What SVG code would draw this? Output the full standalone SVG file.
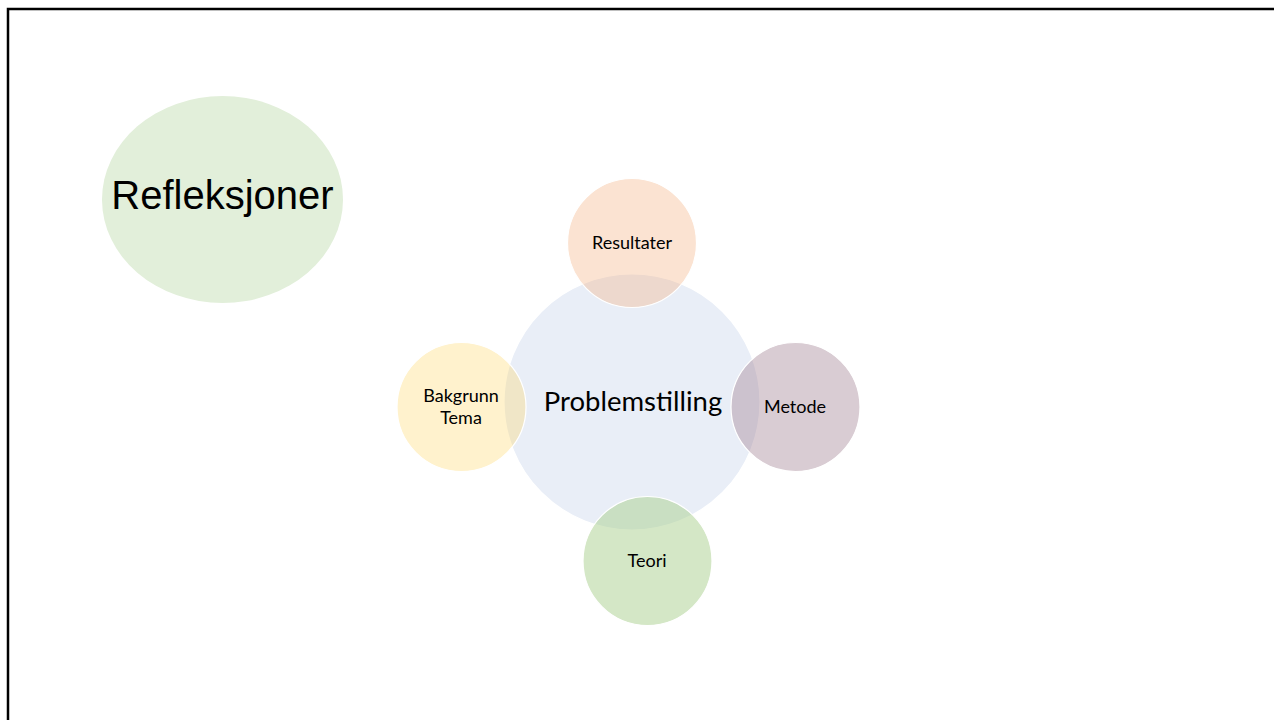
<svg xmlns="http://www.w3.org/2000/svg" width="1274" height="720" viewBox="0 0 1274 720">
<style>
.lbl{font-family:Lato,"Liberation Sans",sans-serif;fill:#000;text-anchor:middle}
.sat{stroke:#fff;stroke-width:1.2}
</style>
<rect width="1274" height="720" fill="#fff"/>
<rect x="8" y="9" width="1300" height="760" fill="none" stroke="#000" stroke-width="2.5"/>
<g id="refleksjoner">
<ellipse cx="222.5" cy="199.5" rx="120.5" ry="103.5" fill="#E2EFDA"/>
<text x="222.5" y="209" font-family="Liberation Sans,Arial,sans-serif" font-size="40" text-anchor="middle" fill="#000">Refleksjoner</text>
</g>
<g id="connectors"></g>
<g id="problemstilling">
<circle cx="632" cy="402" r="128" fill="#E9EEF7" stroke="#fff" stroke-width="1.2"/>
<text class="lbl" x="633" y="411" font-size="27.5">Problemstilling</text>
</g>
<g id="resultater">
<circle class="sat" cx="632" cy="243" r="64.5" fill="#F4B183" fill-opacity="0.36"/>
<text class="lbl" x="632" y="249" font-size="18">Resultater</text>
</g>
<g id="bakgrunn">
<circle class="sat" cx="461.5" cy="407" r="64.5" fill="#FFD966" fill-opacity="0.33"/>
<text class="lbl" x="461" y="402" font-size="18">Bakgrunn</text>
<text class="lbl" x="461" y="424" font-size="18">Tema</text>
</g>
<g id="metode">
<circle class="sat" cx="795.5" cy="407" r="64.5" fill="#A08090" fill-opacity="0.4"/>
<text class="lbl" x="795" y="413" font-size="18">Metode</text>
</g>
<g id="teori">
<circle class="sat" cx="647.5" cy="561" r="64.5" fill="#A9D08E" fill-opacity="0.5"/>
<text class="lbl" x="647" y="567" font-size="18">Teori</text>
</g>
</svg>
